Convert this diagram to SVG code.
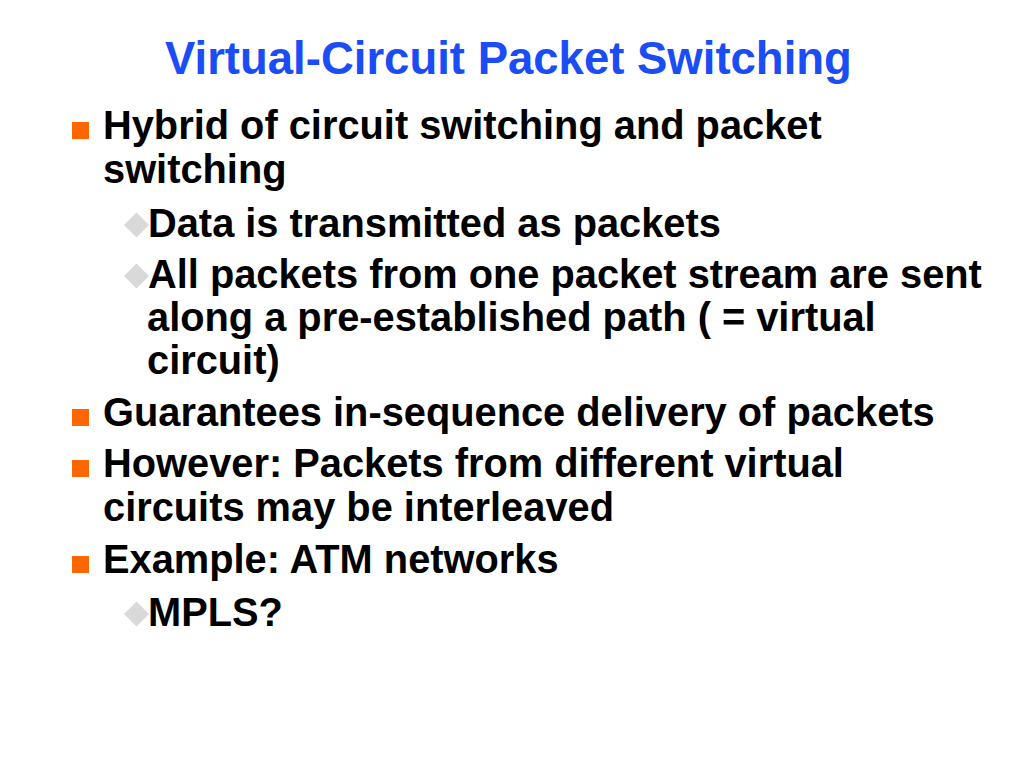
<svg xmlns="http://www.w3.org/2000/svg" width="1024" height="768" viewBox="0 0 1024 768">
  <style>
    .title { font-family: "Liberation Sans", Arial, sans-serif; font-weight: bold; font-size: 45.5px; fill: #1A4DF5; }
    .body { font-family: "Liberation Sans", Arial, sans-serif; font-weight: bold; font-size: 39.8px; fill: #000000; }
    .sq { fill: #FF6600; }
    .dm { fill: #D9D9D9; }
  </style>
  <defs>
    <rect id="square" class="sq" x="0" y="-17" width="17" height="17"/>
    <polygon id="diamond" class="dm" points="0,-12.5 12.5,0 0,12.5 -12.5,0"/>
  </defs>
  <rect width="1024" height="768" fill="#FFFFFF"/>
  <text class="title" x="165" y="74">Virtual-Circuit Packet Switching</text>

  <g id="bullet1">
    <use href="#square" x="72" y="139"/>
    <text class="body" x="103" y="139">Hybrid of circuit switching and packet</text>
    <text class="body" x="103" y="183">switching</text>
  </g>
  <g id="bullet1a">
    <use href="#diamond" x="136.5" y="225"/>
    <text class="body" x="148" y="237">Data is transmitted as packets</text>
  </g>
  <g id="bullet1b">
    <use href="#diamond" x="136.5" y="276"/>
    <text class="body" x="148" y="288">All packets from one packet stream are sent</text>
    <text class="body" x="147" y="331">along a pre-established path ( = virtual</text>
    <text class="body" x="147" y="374">circuit)</text>
  </g>
  <g id="bullet2">
    <use href="#square" x="72" y="426"/>
    <text class="body" x="103" y="426">Guarantees in-sequence delivery of packets</text>
  </g>
  <g id="bullet3">
    <use href="#square" x="72" y="477"/>
    <text class="body" x="103" y="477">However: Packets from different virtual</text>
    <text class="body" x="103" y="521">circuits may be interleaved</text>
  </g>
  <g id="bullet4">
    <use href="#square" x="72" y="573"/>
    <text class="body" x="103" y="573">Example: ATM networks</text>
  </g>
  <g id="bullet4a">
    <use href="#diamond" x="136.5" y="614"/>
    <text class="body" x="148" y="626">MPLS?</text>
  </g>
</svg>
